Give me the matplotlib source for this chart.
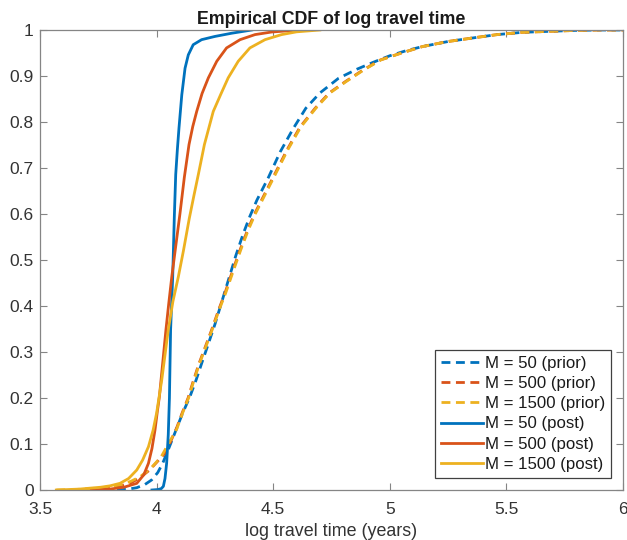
import matplotlib
matplotlib.use("Agg")
import matplotlib.pyplot as plt

plt.rcParams['font.family'] = ['Liberation Sans', 'DejaVu Sans']

# Empirical CDF curves of log travel time: (x, F) pairs per ensemble size
prior_50_x = [3.83, 3.88, 3.915, 3.95, 3.979, 4.005, 4.026, 4.055, 4.083, 4.11, 4.143, 4.17,
              4.193, 4.22, 4.25, 4.28, 4.31, 4.34, 4.37, 4.40, 4.43, 4.48, 4.53, 4.585, 4.64,
              4.70, 4.78, 4.86, 4.93, 5.0, 5.07, 5.14, 5.25, 5.36, 5.46, 5.57, 5.68, 5.79, 5.9, 6.0]
prior_50_F = [0, 0.002, 0.005, 0.012, 0.022, 0.038, 0.058, 0.094, 0.13, 0.165, 0.203, 0.24,
              0.275, 0.315, 0.36, 0.41, 0.46, 0.51, 0.555, 0.595, 0.63, 0.68, 0.735, 0.785, 0.83,
              0.863, 0.895, 0.915, 0.93, 0.944, 0.955, 0.964, 0.975, 0.983, 0.99, 0.995, 0.997, 0.999, 1.0, 1.0]

prior_500_x = [3.70, 3.77, 3.83, 3.886, 3.93, 3.97, 4.0, 4.036, 4.06, 4.086, 4.11, 4.135, 4.158,
               4.182, 4.208, 4.236, 4.265, 4.293, 4.325, 4.36, 4.39, 4.42, 4.45, 4.50, 4.56, 4.615,
               4.68, 4.74, 4.81, 4.885, 4.96, 5.05, 5.14, 5.25, 5.36, 5.46, 5.57, 5.68, 5.79, 5.9, 6.0]
prior_500_F = [0, 0.002, 0.007, 0.0145, 0.027, 0.0435, 0.06, 0.08, 0.105, 0.135, 0.168, 0.2, 0.238,
               0.275, 0.31, 0.348, 0.39, 0.428, 0.475, 0.525, 0.565, 0.6, 0.63, 0.68, 0.74, 0.789,
               0.83, 0.863, 0.888, 0.913, 0.935, 0.95, 0.964, 0.975, 0.983, 0.99, 0.995, 0.997, 0.999, 1.0, 1.0]

prior_1500_x = [3.57, 3.65, 3.743, 3.80, 3.85, 3.89, 3.93, 3.975, 4.02, 4.05, 4.086, 4.112, 4.137,
                4.16, 4.184, 4.21, 4.238, 4.267, 4.296, 4.328, 4.363, 4.393, 4.423, 4.453, 4.503,
                4.563, 4.618, 4.683, 4.743, 4.813, 4.888, 4.962, 5.05, 5.14, 5.25, 5.36, 5.46, 5.57,
                5.68, 5.79, 5.9, 6.0]
prior_1500_F = [0, 0.001, 0.004, 0.007, 0.012, 0.019, 0.029, 0.047, 0.0725, 0.1, 0.132, 0.168, 0.2,
                0.238, 0.275, 0.31, 0.348, 0.39, 0.428, 0.475, 0.525, 0.565, 0.6, 0.63, 0.68,
                0.74, 0.789, 0.83, 0.863, 0.888, 0.913, 0.935, 0.95, 0.964, 0.975, 0.983, 0.99, 0.995,
                0.997, 0.999, 1.0, 1.0]

post_50_x = [3.98, 4.006, 4.02, 4.029, 4.036, 4.043, 4.05, 4.055, 4.06, 4.069, 4.076, 4.082,
             4.089, 4.096, 4.108, 4.122, 4.136, 4.157, 4.193, 4.25, 4.322, 4.408]
post_50_F = [0, 0.001, 0.003, 0.008, 0.025, 0.058, 0.12, 0.2, 0.348, 0.463, 0.594, 0.686,
             0.74, 0.787, 0.859, 0.917, 0.946, 0.968, 0.979, 0.986, 0.993, 1.0]

post_500_x = [3.72, 3.80, 3.86, 3.915, 3.945, 3.965, 3.98, 3.993, 4.003, 4.012, 4.026, 4.04, 4.052,
              4.065, 4.082, 4.10, 4.119, 4.139, 4.155, 4.172, 4.195, 4.222, 4.258, 4.30, 4.358,
              4.422, 4.494, 4.615]
post_500_F = [0, 0.002, 0.006, 0.0145, 0.033, 0.058, 0.09, 0.13, 0.17, 0.203, 0.275, 0.348, 0.405,
              0.463, 0.53, 0.60, 0.68, 0.751, 0.79, 0.823, 0.862, 0.896, 0.932, 0.961, 0.979,
              0.99, 0.9957, 1.0]

post_1500_x = [3.57, 3.62, 3.67, 3.714, 3.76, 3.80, 3.843, 3.88, 3.915, 3.94, 3.965, 3.985, 4.0,
               4.022, 4.05, 4.07, 4.093, 4.115, 4.14, 4.16, 4.179, 4.205, 4.243, 4.275, 4.307,
               4.35, 4.40, 4.465, 4.536, 4.60, 4.70]
post_1500_F = [0, 0.001, 0.002, 0.004, 0.006, 0.009, 0.0145, 0.025, 0.0435, 0.065, 0.094, 0.13, 0.167,
               0.239, 0.348, 0.41, 0.463, 0.52, 0.59, 0.64, 0.686, 0.751, 0.823, 0.86, 0.896,
               0.932, 0.961, 0.979, 0.99, 0.996, 1.0]

labels = ['M = 50 (prior)', 'M = 500 (prior)', 'M = 1500 (prior)',
          'M = 50 (post)', 'M = 500 (post)', 'M = 1500 (post)']

x_ticks = [3.5, 4, 4.5, 5, 5.5, 6]
x_tick_labels = ['3.5', '4', '4.5', '5', '5.5', '6']
y_ticks = [0, 0.1, 0.2, 0.3, 0.4, 0.5, 0.6, 0.7, 0.8, 0.9, 1]
y_tick_labels = ['0', '0.1', '0.2', '0.3', '0.4', '0.5', '0.6', '0.7', '0.8', '0.9', '1']

colors = ['#0072BD', '#D95319', '#EDB120']
axis_gray = '#858585'
text_gray = '#333333'

fig = plt.figure(figsize=(6.27, 5.40), dpi=100)
ax = fig.add_axes([40 / 627, 50 / 540, 583 / 627, 460 / 540])

lw = 2.0
priors = [(prior_50_x, prior_50_F), (prior_500_x, prior_500_F), (prior_1500_x, prior_1500_F)]
posts = [(post_50_x, post_50_F), (post_500_x, post_500_F), (post_1500_x, post_1500_F)]

for (xs, fs), c, lab in zip(priors, colors, labels[:3]):
    ax.plot(xs, fs, color=c, linewidth=lw, linestyle=(0, (3.2, 2.0)), label=lab)
for (xs, fs), c, lab in zip(posts, colors, labels[3:]):
    ax.plot(xs, fs, color=c, linewidth=lw, linestyle='-', label=lab)

ax.set_xlim(3.5, 6)
ax.set_ylim(0, 1)
ax.set_xticks(x_ticks)
ax.set_xticklabels(x_tick_labels)
ax.set_yticks(y_ticks)
ax.set_yticklabels(y_tick_labels)
ax.tick_params(direction='in', length=5, width=0.8, colors=axis_gray,
               labelcolor=text_gray, labelsize=12.5, top=True, right=True)
ax.tick_params(axis='x', pad=9)
ax.tick_params(axis='y', pad=4.5)
for sp in ax.spines.values():
    sp.set_color(axis_gray)
    sp.set_linewidth(0.9)

ax.set_xlabel('log travel time (years)', fontsize=12.9, color=text_gray, labelpad=4)
ax.set_title('Empirical CDF of log travel time', fontsize=12.8, fontweight='bold',
             color='#1a1a1a', pad=4.5)

leg = ax.legend(loc='lower right', fontsize=12.1, frameon=True, fancybox=False,
                framealpha=1, edgecolor='#404040', handlelength=2.5, handletextpad=0.12,
                labelspacing=0.31, borderpad=0.36, borderaxespad=0.72)
leg.get_frame().set_linewidth(0.9)
for t in leg.get_texts():
    t.set_color('#1a1a1a')

fig.savefig('out.png', dpi=100)
